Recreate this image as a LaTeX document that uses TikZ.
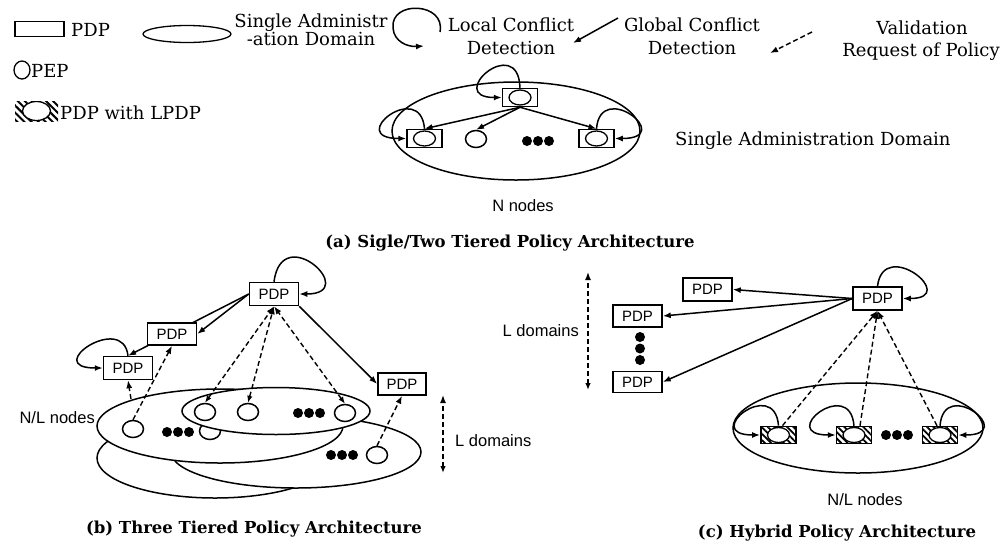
\documentclass[tikz,border=0pt]{standalone}
\usepackage{fontspec}
\setmainfont{DejaVu Serif}
\setsansfont{Liberation Sans}
\usetikzlibrary{arrows.meta,shapes.geometric,patterns.meta}
\pgfdeclarelayer{bg}
\pgfsetlayers{bg,main}
\tikzset{
 thk/.style={line width=1.5pt},
 solarr/.style={thk,-{Latex[length=8pt,width=6pt]}},
 dasharr/.style={line width=1.4pt,dash pattern=on 5pt off 3pt,-{Latex[length=8pt,width=6pt]}},
 dasharr2/.style={line width=1.4pt,dash pattern=on 5pt off 3pt,{Latex[length=7pt,width=5.5pt]}-{Latex[length=8pt,width=6pt]}},
 pdpbox/.style={draw,thk,fill=white,rectangle,inner sep=0pt,minimum width=49pt,minimum height=23pt,font=\sffamily\fontsize{15}{15}\selectfont},
 pdpe/.style={draw,thk,fill=white,rectangle,inner sep=0pt,minimum width=35pt,minimum height=18pt,
   path picture={\draw[line width=1.3pt] (path picture bounding box.center) ellipse [x radius=11pt,y radius=7.5pt];}},
 lpdp/.style={draw,thk,rectangle,inner sep=0pt,minimum width=35pt,minimum height=17pt,
   pattern={Lines[angle=-45,distance=4.5pt,line width=1.8pt]},
   path picture={\draw[line width=1.3pt,fill=white] (path picture bounding box.center) ellipse [x radius=11pt,y radius=7.5pt];}},
 pep/.style={draw,thk,fill=white,ellipse,inner sep=0pt,minimum width=21pt,minimum height=17pt},
 blackdot/.style={circle,fill=black,inner sep=0pt,minimum size=10pt},
 domell/.style={draw,thk,fill=white,ellipse,inner sep=0pt},
 smlab/.style={font=\sffamily\fontsize{16.5}{17}\selectfont,inner sep=0pt},
 legtxt/.style={font=\fontsize{18}{18}\selectfont,inner sep=0pt},
 titletxt/.style={font=\bfseries\fontsize{16.5}{17}\selectfont,inner sep=0pt},
}
\begin{document}
\begin{tikzpicture}[x=1pt,y=-1pt]
\useasboundingbox (0,0) rectangle (1005,550);

% ---------------- legend ----------------
\node[draw,line width=1.1pt,rectangle,minimum width=49pt,minimum height=15pt,inner sep=0pt] (legPDP) at (39.5,29) {};
\node[legtxt,anchor=base west] (legPDPt) at (71,36) {PDP};
\node[draw,line width=1.3pt,ellipse,minimum width=88pt,minimum height=17pt,inner sep=0pt] (legDom) at (187,34) {};
\node[legtxt,anchor=base] (legDomA) at (311,27) {Single Administr};
\node[legtxt,anchor=base] (legDomB) at (311,45) {-ation Domain};
\node[draw,line width=1.3pt,ellipse,minimum width=16pt,minimum height=18pt,inner sep=0pt] (legPEP) at (22,70) {};
\node[legtxt,anchor=base west] (legPEPt) at (31,77) {PEP};
\node[rectangle,inner sep=0pt,minimum width=43pt,minimum height=20pt,
   pattern={Lines[angle=-45,distance=5pt,line width=2pt]},
   path picture={\draw[line width=1.3pt,fill=white] (path picture bounding box.center) ellipse [x radius=14pt,y radius=9.5pt];}] (legL) at (36.5,111) {};
\node[legtxt,anchor=base west] (legLt) at (60,119) {PDP with LPDP};

\coordinate (loopS) at (440,32);
\coordinate (loopE) at (424,46);
\draw[solarr] (loopS) .. controls (446,2) and (390,0) .. (393,28) .. controls (394,42) and (408,47) .. (loopE);
\node[legtxt,anchor=base] (lcd1) at (511,31) {Local Conflict};
\node[legtxt,anchor=base] (lcd2) at (511,54) {Detection};
\coordinate (gS) at (618,18);
\coordinate (gE) at (573,43);
\draw[solarr] (gS) -- (gE);
\node[legtxt,anchor=base] (gcd1) at (692,31) {Global Conflict};
\node[legtxt,anchor=base] (gcd2) at (692,54) {Detection};
\coordinate (vS) at (812,32);
\coordinate (vE) at (770,53);
\draw[dasharr] (vS) -- (vE);
\node[legtxt,anchor=base] (val1) at (922,34) {Validation};
\node[legtxt,anchor=base] (val2) at (921,56) {Request of Policy};

% ---------------- (a) ----------------
\node[domell,fill=none,minimum width=248pt,minimum height=98pt] (dA) at (516,131) {};
\node[pdpe] (topA) at (520,97.5) {};
\node[pdpe] (leftA) at (424.5,138.5) {};
\node[pep] (pepA) at (476,139) {};
\node[blackdot] (dA1) at (527,141) {};
\node[blackdot] (dA2) at (538,141) {};
\node[blackdot] (dA3) at (549,141) {};
\node[pdpe] (rightA) at (596.5,138.5) {};
\draw[solarr] (topA.south) -- (leftA.north);
\draw[solarr] (topA.south) -- (pepA.north);
\draw[solarr] (topA.south) -- (rightA.north);
\draw[solarr] (topA.north) .. controls +(-2,-56) and +(-58,0) .. (topA.west);
\draw[solarr] (leftA.north) .. controls +(-4,-50) and +(-62,0) .. (leftA.west);
\draw[solarr] (rightA.north) .. controls +(4,-50) and +(62,0) .. (rightA.east);
\node[smlab] (nA) at (523,206) {N nodes};
\node[legtxt,anchor=base west] (sadA) at (675,145) {Single Administration Domain};
\node[titletxt,anchor=base] (tA) at (510,247) {(a) Sigle/Two Tiered Policy Architecture};

% ---------------- (b) ----------------
\node[domell,minimum width=236pt,minimum height=80pt] (dD) at (215,458) {};
\node[domell,minimum width=250pt,minimum height=72pt] (dC) at (296,452) {};
\node[blackdot] (dC1) at (331,455) {};
\node[blackdot] (dC2) at (342,455) {};
\node[blackdot] (dC3) at (353,455) {};
\node[pep] (pC1) at (377,455) {};
\node[domell,minimum width=246pt,minimum height=74pt] (dAA) at (220,426) {};
\node[pep] (pA1) at (133,429) {};
\node[blackdot] (dAA1) at (167,432) {};
\node[blackdot] (dAA2) at (178,432) {};
\node[blackdot] (dAA3) at (189,432) {};
\node[pep] (pA2) at (210,431) {};
\node[domell,minimum width=188pt,minimum height=47pt] (dB) at (276,411) {};
\node[pep] (pB1) at (205,412) {};
\node[pep] (pB2) at (248,412) {};
\node[blackdot] (dB1) at (298,413) {};
\node[blackdot] (dB2) at (309,413) {};
\node[blackdot] (dB3) at (320,413) {};
\node[pep] (pB3) at (345,413) {};

\node[pdpbox] (topB) at (274,294) {PDP};
\node[pdpbox,minimum height=22pt] (midB) at (172,334) {PDP};
\node[pdpbox] (leftB) at (128,368) {PDP};
\node[pdpbox,minimum width=48pt,minimum height=22pt] (rightB) at (402,384) {PDP};

\begin{pgfonlayer}{bg}
\draw[solarr] (topB.west) -- (leftB.north);
\end{pgfonlayer}
\draw[solarr] (topB.west) -- (midB.east);
\draw[solarr] (topB.south east) -- (rightB.west);
\draw[solarr] (topB.north) .. controls +(8,-62) and +(62,0) .. (topB.east);
\draw[solarr] (leftB.north) .. controls +(-5,-44) and +(-62,0) .. (leftB.west);

\coordinate (nlTop) at (131,399);
\draw[dasharr] (nlTop) -- (leftB.south);
\draw[dasharr] (pA1.north) -- (midB.south);
\draw[dasharr2] (pB1.north) -- (topB.south);
\draw[dasharr2] (pB2.north) -- (topB.south);
\draw[dasharr2] (pB3.north) -- (topB.south);
\draw[dasharr] (pC1.north) -- (rightB.south);

\node[smlab,anchor=east] (nlB) at (95,418) {N/L nodes};
\coordinate (lbT) at (443,395);
\coordinate (lbB) at (443,473);
\draw[dasharr2] (lbB) -- (lbT);
\node[smlab,anchor=west] (ldB) at (455,441) {L domains};
\node[titletxt,anchor=base] (tB) at (254,533) {(b) Three Tiered Policy Architecture};

% ---------------- (c) ----------------
\node[domell,fill=none,minimum width=250pt,minimum height=90pt] (dCC) at (858,428) {};
\node[pdpbox] (topC) at (877.5,298.5) {PDP};
\node[pdpbox] (p1C) at (707.5,289.5) {PDP};
\node[pdpbox,minimum height=22pt] (p2C) at (637.5,316) {PDP};
\node[pdpbox,minimum height=21pt] (p3C) at (637.5,382) {PDP};
\node[blackdot] (vd1) at (640,337) {};
\node[blackdot] (vd2) at (640,348.5) {};
\node[blackdot] (vd3) at (640,360) {};
\draw[solarr] (topC.west) -- (p1C.east);
\draw[solarr] (topC.west) -- (p2C.east);
\draw[solarr] (topC.west) -- (p3C.east);
\draw[solarr] (topC.north) .. controls +(6,-50) and +(58,0) .. (topC.east);
\coordinate (lcT) at (588,272);
\coordinate (lcB) at (588,390);
\draw[dasharr2] (lcB) -- (lcT);
\node[smlab,anchor=east] (ldC) at (579,331) {L domains};

\node[lpdp] (l1) at (778.5,435) {};
\node[lpdp] (l2) at (854,435) {};
\node[blackdot] (cd1) at (886,435) {};
\node[blackdot] (cd2) at (897,435) {};
\node[blackdot] (cd3) at (908,435) {};
\node[lpdp] (l3) at (940,435) {};
\draw[solarr] (l1.north) .. controls +(-4,-50) and +(-60,0) .. (l1.west);
\draw[solarr] (l2.north) .. controls +(-4,-50) and +(-60,0) .. (l2.west);
\draw[solarr] (l3.north) .. controls +(4,-50) and +(60,0) .. (l3.east);
\draw[dasharr] ([xshift=4pt]l1.north) -- (topC.south);
\draw[dasharr] ([xshift=6pt]l2.north) -- (topC.south);
\draw[dasharr] ([xshift=-3pt]l3.north) -- (topC.south);
\node[smlab] (nlC) at (865,500) {N/L nodes};
\node[titletxt,anchor=base] (tC) at (837,537) {(c) Hybrid Policy Architecture};
\end{tikzpicture}
\end{document}
